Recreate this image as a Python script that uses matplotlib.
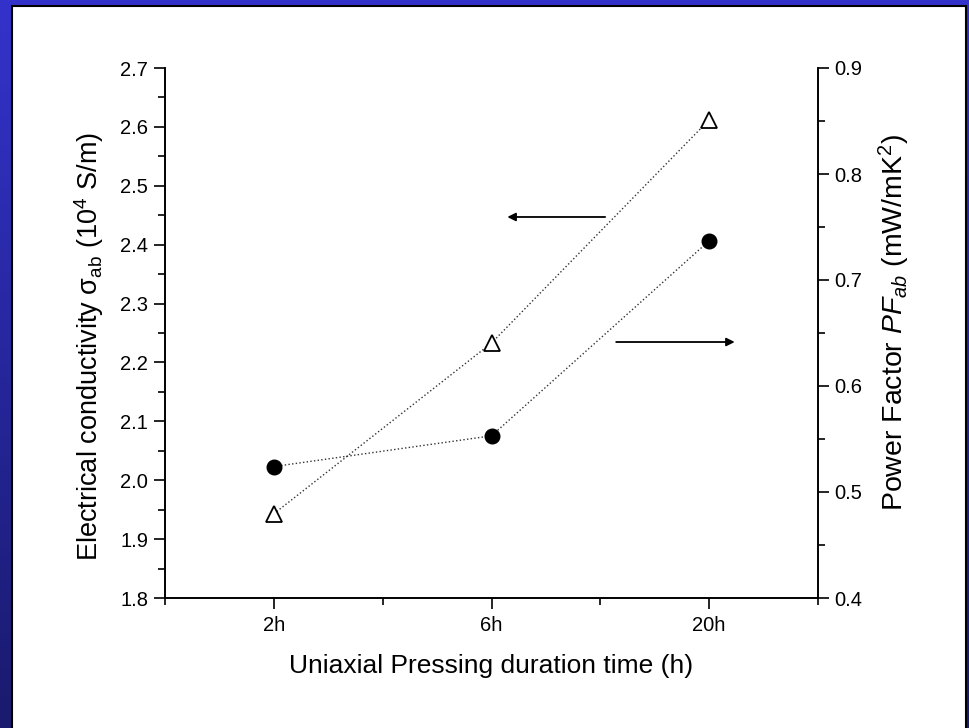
import numpy as np
import matplotlib
matplotlib.use('Agg')
import matplotlib.pyplot as plt
from matplotlib.patches import Rectangle
from matplotlib.ticker import MultipleLocator, FormatStrFormatter

plt.rcParams['font.family'] = ['Liberation Sans', 'DejaVu Sans']
plt.rcParams['mathtext.fontset'] = 'custom'
plt.rcParams['mathtext.rm'] = 'Liberation Sans'
plt.rcParams['mathtext.it'] = 'Liberation Sans:italic'
plt.rcParams['mathtext.bf'] = 'Liberation Sans:bold'

# Data
durations = ['2h', '6h', '20h']
conductivity = [1.943, 2.233, 2.612]      # 10^4 S/m, left axis (open triangles)
power_factor = [0.524, 0.553, 0.737]      # mW/mK^2, right axis (filled circles)

W, H = 970, 728
fig = plt.figure(figsize=(W / 100, H / 100), dpi=100)

# slide-like background: blue gradient frame with white panel
bg = fig.add_axes([0, 0, 1, 1], zorder=-10)
grad = np.linspace(0, 1, 256).reshape(-1, 1)
top_c = np.array([51, 51, 204]) / 255
bot_c = np.array([26, 26, 110]) / 255
img = top_c[None, None, :] * (1 - grad[:, :, None]) + bot_c[None, None, :] * grad[:, :, None]
bg.imshow(img, aspect='auto', extent=[0, 1, 0, 1], origin='upper')
bg.add_patch(Rectangle((12.5 / W, -0.01), (966 - 12.5) / W, 1 - 6 / H + 0.01,
                       facecolor='white', edgecolor='black', lw=1.5))
bg.set_xlim(0, 1)
bg.set_ylim(0, 1)
bg.axis('off')

ax = fig.add_axes([165 / W, 1 - 598 / H, (818 - 165) / W, (598 - 68) / H])
ax2 = ax.twinx()

x = np.arange(1, len(durations) + 1)

ax.plot(x, conductivity, linestyle=':', color='#333333', lw=1.0,
        marker='^', markersize=12, markerfacecolor='white',
        markeredgecolor='black', markeredgewidth=1.3, zorder=3)
ax2.plot(x, power_factor, linestyle=':', color='#333333', lw=1.0,
         marker='o', markersize=10.5, markerfacecolor='black',
         markeredgecolor='black', zorder=3)

ax.set_xlim(0.5, 3.5)
ax.set_ylim(1.8, 2.7)
ax2.set_ylim(0.4, 0.9)

ax.set_xticks(x)
ax.set_xticklabels(durations)
ax.xaxis.set_minor_locator(MultipleLocator(0.5))
ax.yaxis.set_major_locator(MultipleLocator(0.1))
ax.yaxis.set_minor_locator(MultipleLocator(0.05))
ax.yaxis.set_major_formatter(FormatStrFormatter('%.1f'))
ax2.yaxis.set_major_locator(MultipleLocator(0.1))
ax2.yaxis.set_minor_locator(MultipleLocator(0.05))
ax2.yaxis.set_major_formatter(FormatStrFormatter('%.1f'))

for a in (ax, ax2):
    a.spines['top'].set_visible(False)
    for s in a.spines.values():
        s.set_linewidth(1.2)
    a.tick_params(which='major', direction='out', length=8, width=1.2, labelsize=14.5, pad=4)
    a.tick_params(which='minor', direction='out', length=5, width=1.2)
ax.tick_params(axis='x', which='major', pad=5)

ax.set_xlabel('Uniaxial Pressing duration time (h)', fontsize=19, labelpad=14)
ax.set_ylabel('Electrical conductivity σ$_{\\rm ab}$ (10$^{\\rm 4}$ S/m)', fontsize=19.5, labelpad=10)
ax2.set_ylabel(r'Power Factor $PF_{ab}$ (mW/mK$^{\rm 2}$)', fontsize=20.5, labelpad=10)
ax.yaxis.label.set_y(0.474)
ax2.yaxis.label.set_y(0.521)

# arrows showing which axis each series uses
ax.annotate('', xy=(2.06, 2.447), xytext=(2.535, 2.447),
            arrowprops=dict(arrowstyle='-|>', color='black', lw=1.3, mutation_scale=12))
ax2.annotate('', xy=(3.13, 0.6415), xytext=(2.56, 0.6415),
             arrowprops=dict(arrowstyle='-|>', color='black', lw=1.3, mutation_scale=12))

fig.savefig('out.png', dpi=100)
